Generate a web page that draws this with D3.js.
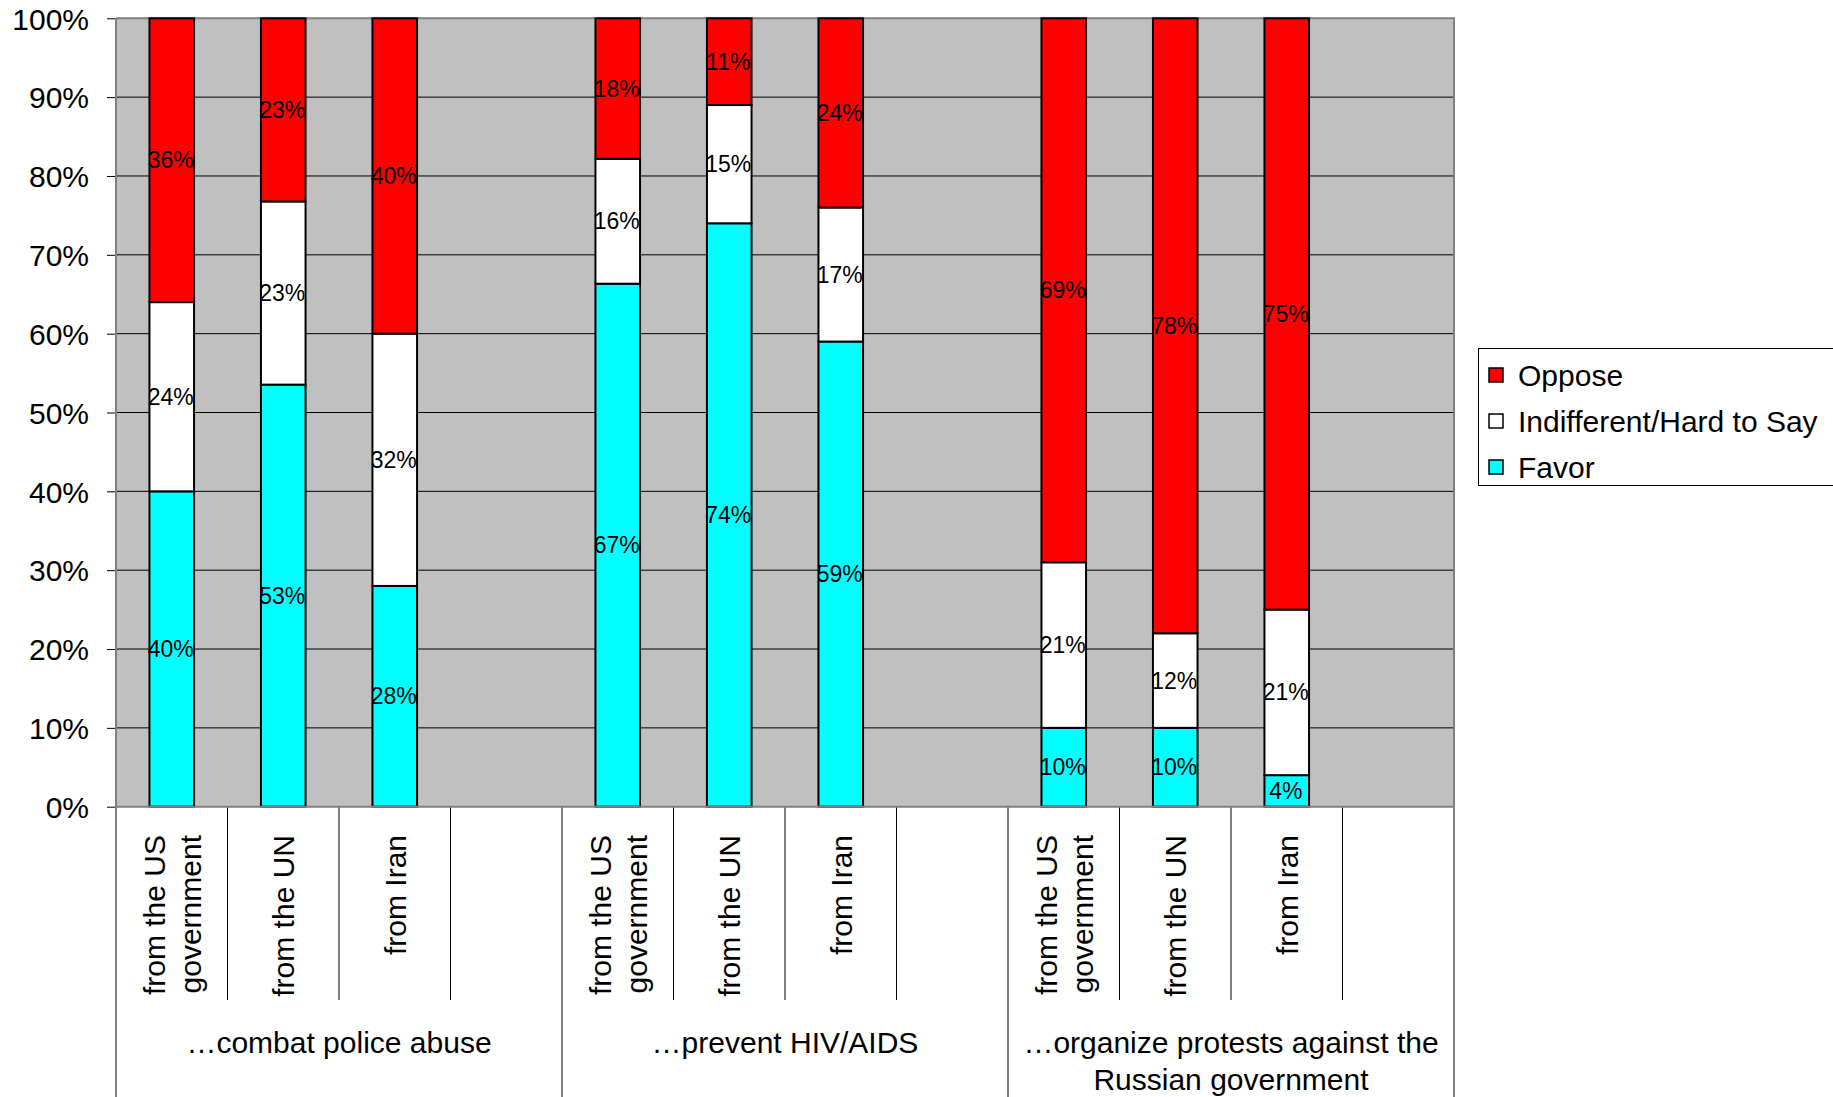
<!DOCTYPE html>
<html>
<head>
<meta charset="utf-8">
<script src="https://cdn.jsdelivr.net/npm/d3@7"></script>
<style>
  body { margin: 0; background: #fff; }
  text { font-family: "Liberation Sans", Arial, sans-serif; fill: #000; }
</style>
</head>
<body>
<div id="chart"></div>
<script>
// groups of the question, and who gives the money
var groups = ["\u2026combat police abuse", "\u2026prevent HIV/AIDS", "\u2026organize protests against the|Russian government"];
var sources = ["from the US|government", "from the UN", "from Iran", ""];
var seriesNames = ["Favor", "Indifferent/Hard to Say", "Oppose"];
var seriesColors = ["#00ffff", "#ffffff", "#ff0000"];

// values per bar, group by group (blank slot has no bar)
var favor = [40, 53, 28, 67, 74, 59, 10, 10, 4];
var indifferent = [24, 23, 32, 16, 15, 17, 21, 12, 21];
var oppose = [36, 23, 40, 18, 11, 24, 69, 78, 75];

var yTicks = [0, 0.1, 0.2, 0.3, 0.4, 0.5, 0.6, 0.7, 0.8, 0.9, 1];

var W = 1833, H = 1097;
var plot = { left: 116, right: 1454, top: 18.3, bottom: 806.7 };

var svg = d3.select("#chart").append("svg")
    .attr("width", W)
    .attr("height", H);

// one band per slot, 4 slots per group
var slots = [];
groups.forEach(function (g, gi) {
  sources.forEach(function (s, si) {
    slots.push({ id: gi + "-" + si, group: gi, source: s });
  });
});

var x = d3.scaleBand()
    .domain(slots.map(function (d) { return d.id; }))
    .range([plot.left, plot.right])
    .padding(0);
var y = d3.scaleLinear().domain([0, 1]).range([plot.bottom, plot.top]);

var rows = [];
var k = 0;
groups.forEach(function (g, gi) {
  for (var si = 0; si < 3; si++) {
    rows.push({ id: gi + "-" + si, Favor: favor[k], "Indifferent/Hard to Say": indifferent[k], Oppose: oppose[k] });
    k++;
  }
});

var stack = d3.stack().keys(seriesNames).offset(d3.stackOffsetExpand);
var layers = stack(rows);

// plot background
svg.append("rect")
    .attr("x", plot.left).attr("y", plot.top)
    .attr("width", plot.right - plot.left).attr("height", plot.bottom - plot.top)
    .attr("fill", "#c0c0c0");

// gridlines
svg.append("g").selectAll("line")
    .data(yTicks.slice(1, -1))
    .enter().append("line")
    .attr("x1", plot.left).attr("x2", plot.right)
    .attr("y1", function (d) { return y(d); })
    .attr("y2", function (d) { return y(d); })
    .attr("stroke", "#000")
    .attr("stroke-width", 1);

// top and right border
svg.append("path")
    .attr("d", "M" + plot.left + "," + plot.top + "H" + plot.right + "V" + plot.bottom)
    .attr("fill", "none")
    .attr("stroke", "#808080")
    .attr("stroke-width", 2);

// bars
var barW = x.bandwidth() * 0.4;
var layer = svg.append("g").selectAll("g")
    .data(layers)
    .enter().append("g")
    .attr("fill", function (d, i) { return seriesColors[i]; });

layer.selectAll("rect")
    .data(function (d) { return d; })
    .enter().append("rect")
    .attr("x", function (d) { return x(d.data.id) + (x.bandwidth() - barW) / 2; })
    .attr("y", function (d) { return y(d[1]); })
    .attr("width", barW)
    .attr("height", function (d) { return y(d[0]) - y(d[1]); })
    .attr("stroke", "#000")
    .attr("stroke-width", 2);

// data labels
layers.forEach(function (l) {
  svg.append("g").selectAll("text")
    .data(l)
    .enter().append("text")
    .attr("x", function (d) { return x(d.data.id) + x.bandwidth() / 2 - 1; })
    .attr("y", function (d) { return (y(d[0]) + y(d[1])) / 2 + 8; })
    .attr("text-anchor", "middle")
    .attr("font-size", 23)
    .text(function (d) { return d.data[l.key] + "%"; });
});

// y axis
var yAxis = svg.append("g")
    .attr("transform", "translate(" + plot.left + ",0)")
    .call(d3.axisLeft(y).tickValues(yTicks).tickFormat(d3.format(".0%")).tickSize(9).tickPadding(18));
yAxis.select(".domain").remove();
yAxis.selectAll(".tick line").attr("stroke", "#000");
yAxis.selectAll(".tick text")
    .attr("font-size", 30)
    .attr("font-family", "Liberation Sans, Arial, sans-serif")
    .attr("dy", "0.36em");

// category area lines
var catBottom = 1000;
svg.append("g").selectAll("line")
    .data(slots.filter(function (d, i) { return i % 4 !== 0; }))
    .enter().append("line")
    .attr("x1", function (d) { return x(d.id); })
    .attr("x2", function (d) { return x(d.id); })
    .attr("y1", plot.bottom).attr("y2", catBottom)
    .attr("stroke", "#000").attr("stroke-width", 1);

// group edges: left axis runs the full height, the others start at the axis
var groupEdges = [0, 4, 8].map(function (i) { return x(slots[i].id); }).concat([plot.right]);
svg.append("g").selectAll("line")
    .data(groupEdges)
    .enter().append("line")
    .attr("x1", function (d) { return d; })
    .attr("x2", function (d) { return d; })
    .attr("y1", function (d, i) { return i === 0 ? plot.top : plot.bottom; })
    .attr("y2", H)
    .attr("stroke", "#808080").attr("stroke-width", 2);

// bottom axis line
svg.append("line")
    .attr("x1", plot.left).attr("x2", plot.right)
    .attr("y1", plot.bottom).attr("y2", plot.bottom)
    .attr("stroke", "#808080").attr("stroke-width", 2);

// rotated source labels
var lineH = 36;
var cat = svg.append("g").selectAll("text")
    .data(slots.filter(function (d) { return d.source !== ""; }))
    .enter().append("text")
    .attr("transform", function (d) {
      return "translate(" + (x(d.id) + x.bandwidth() / 2) + ",835) rotate(-90)";
    })
    .attr("text-anchor", "end")
    .attr("font-size", 30);
cat.each(function (d) {
  var lines = d.source.split("|");
  var t = d3.select(this);
  lines.forEach(function (s, i) {
    t.append("tspan")
      .attr("x", 0)
      .attr("y", 11 + (i - (lines.length - 1) / 2) * lineH)
      .text(s);
  });
});

// group labels
svg.append("g").selectAll("text")
    .data(groups)
    .enter().append("text")
    .attr("text-anchor", "middle")
    .attr("font-size", 30)
    .each(function (d, gi) {
      var cx = (groupEdges[gi] + groupEdges[gi + 1]) / 2;
      var t = d3.select(this);
      d.split("|").forEach(function (s, i) {
        t.append("tspan").attr("x", cx).attr("y", 1053 + i * 37).text(s);
      });
    });

// legend
var legend = svg.append("g");
legend.append("rect")
    .attr("x", 1478.5).attr("y", 348.5)
    .attr("width", 400).attr("height", 137)
    .attr("fill", "#fff").attr("stroke", "#000").attr("stroke-width", 1);
var items = seriesNames.slice().reverse();
var itemColors = seriesColors.slice().reverse();
var li = legend.selectAll("g.item")
    .data(items)
    .enter().append("g")
    .attr("class", "item")
    .attr("transform", function (d, i) { return "translate(1489," + (375 + i * 46) + ")"; });
li.append("rect")
    .attr("x", 0).attr("y", -7)
    .attr("width", 14).attr("height", 14)
    .attr("fill", function (d, i) { return itemColors[i]; })
    .attr("stroke", "#000").attr("stroke-width", 1.5);
li.append("text")
    .attr("x", 29).attr("y", 11)
    .attr("font-size", 30)
    .text(function (d) { return d; });
</script>
</body>
</html>
